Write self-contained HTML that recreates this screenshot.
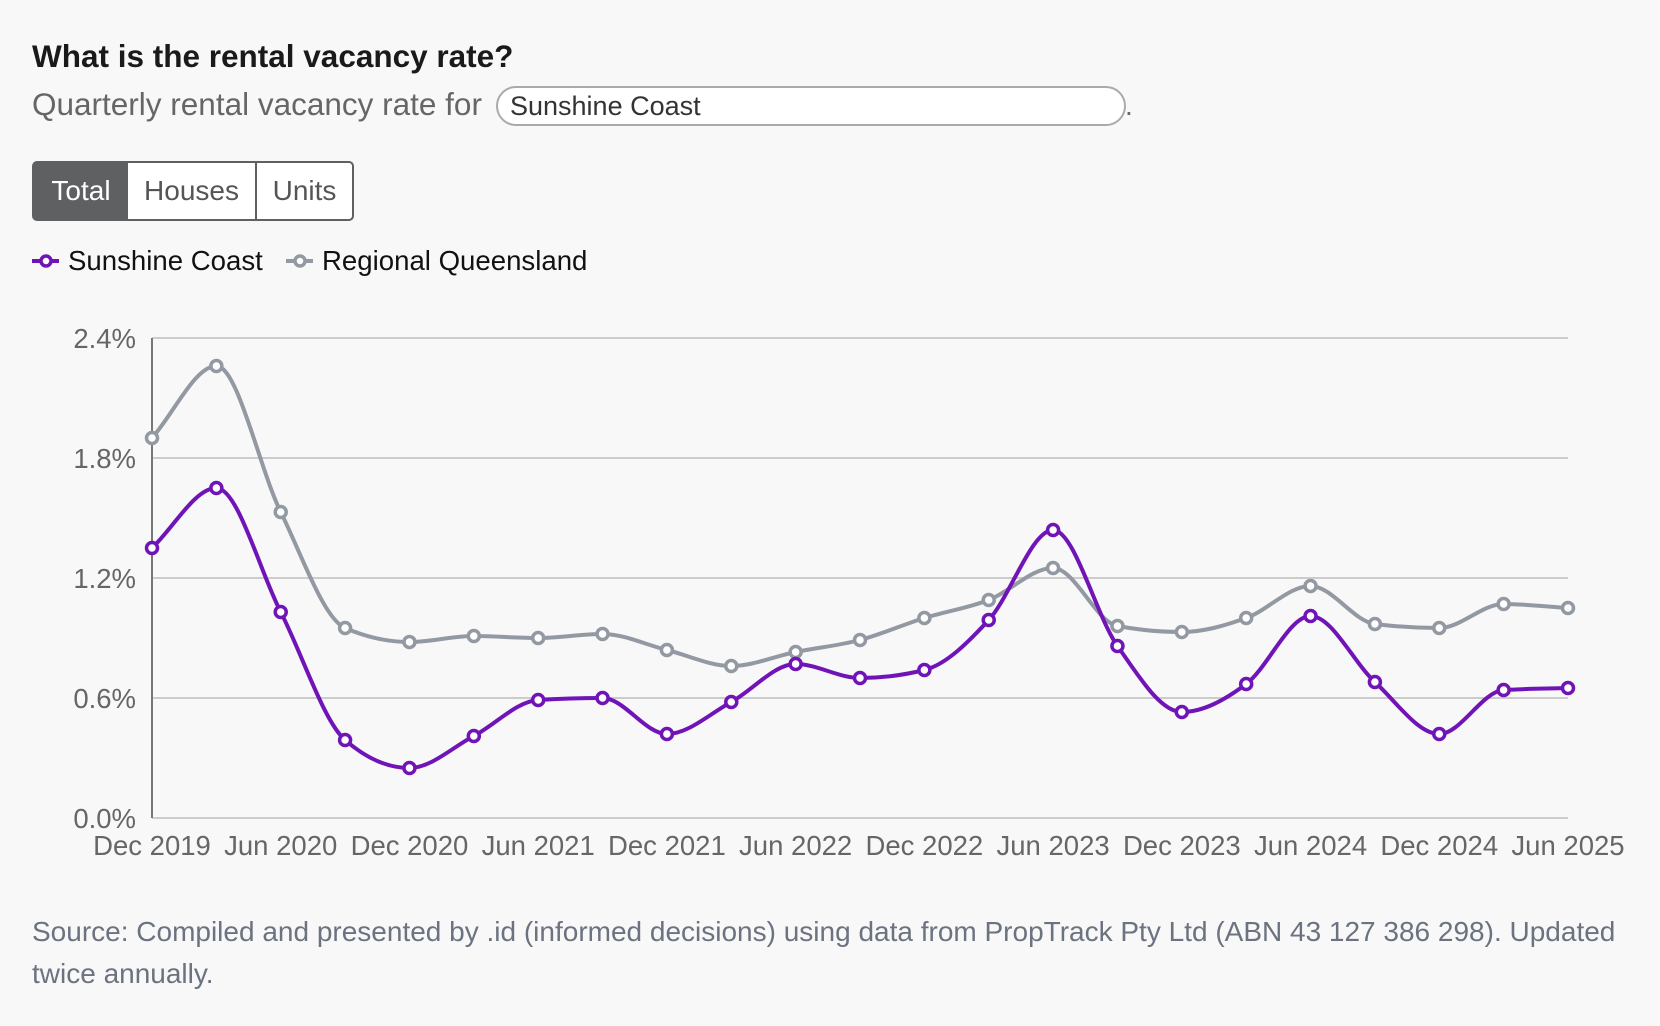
<!DOCTYPE html>
<html><head><meta charset="utf-8"><style>
body{margin:0;background:#f8f8f8;width:1660px;height:1026px;overflow:hidden;font-family:"Liberation Sans",sans-serif;position:relative}
.t{position:absolute;white-space:nowrap}
</style></head><body>
<div class="t" style="left:32px;top:38px;font-size:31.5px;font-weight:bold;color:#1a1a1a">What is the rental vacancy rate?</div>
<div class="t" style="left:32px;top:86px;font-size:31.5px;color:#666">Quarterly rental vacancy rate for</div>
<div class="t" style="left:496px;top:86px;height:36px;border:2px solid #aaa;border-radius:20px;background:#fff;font-size:27px;color:#333;line-height:36px;padding-left:12px;width:614px">Sunshine Coast</div>
<div class="t" style="left:1125px;top:90px;font-size:28px;color:#666">.</div>
<div class="t" style="left:32px;top:161px;width:322px;height:60px;border:2px solid #5f6062;border-radius:5px;background:#fff;box-sizing:border-box;font-size:28px;color:#555">
<div style="position:absolute;left:0;top:0;width:94px;height:56px;background:#5f6062;color:#fff;text-align:center;line-height:56px">Total</div>
<div style="position:absolute;left:94px;top:0;width:129px;height:56px;text-align:center;line-height:56px;border-right:2px solid #5f6062;box-sizing:border-box">Houses</div>
<div style="position:absolute;left:223px;top:0;width:95px;height:56px;text-align:center;line-height:56px">Units</div>
</div>
<svg class="t" style="left:0;top:0" width="1660" height="1026">
<g stroke-width="4" fill="#fff">
<line x1="32" y1="261" x2="59" y2="261" stroke="#7014b8"/><circle cx="46" cy="261" r="5" stroke="#7014b8" stroke-width="3.5"/>
<line x1="286" y1="261" x2="313" y2="261" stroke="#9399a2"/><circle cx="300" cy="261" r="5" stroke="#9399a2" stroke-width="3.5"/>
</g>
<text x="68" y="270" font-size="27.6" fill="#111">Sunshine Coast</text>
<text x="322" y="270" font-size="27.6" fill="#111">Regional Queensland</text>
<g stroke="#ccc" stroke-width="2">
<line x1="152" y1="338" x2="1568" y2="338"/><line x1="152" y1="458" x2="1568" y2="458"/><line x1="152" y1="578" x2="1568" y2="578"/><line x1="152" y1="698" x2="1568" y2="698"/><line x1="152" y1="818" x2="1568" y2="818"/>
</g>
<line x1="152" y1="338" x2="152" y2="818" stroke="#777" stroke-width="2"/>
<g font-size="27.5" fill="#666" text-anchor="end">
<text x="136" y="348">2.4%</text><text x="136" y="468">1.8%</text><text x="136" y="588">1.2%</text><text x="136" y="708">0.6%</text><text x="136" y="828">0.0%</text>
</g>
<g id="xl" font-size="27.5" fill="#666" text-anchor="middle"></g>
<g id="ser"></g>
</svg>
<div class="t" style="left:32px;top:911px;font-size:28px;color:#6b7280;line-height:42px;white-space:normal;width:1600px">Source: Compiled and presented by .id (informed decisions) using data from PropTrack Pty Ltd (ABN 43 127 386 298). Updated twice annually.</div>
<script>
var X0=152,DX=(1568-152)/22;
function Y(v){return 818-v*200;}
var sc=[1.35,1.65,1.03,0.39,0.25,0.41,0.59,0.60,0.42,0.58,0.77,0.70,0.74,0.99,1.44,0.86,0.53,0.67,1.01,0.68,0.42,0.64,0.65];
var rq=[1.90,2.26,1.53,0.95,0.88,0.91,0.90,0.92,0.84,0.76,0.83,0.89,1.00,1.09,1.25,0.96,0.93,1.00,1.16,0.97,0.95,1.07,1.05];
function mono(xs,ys){var n=xs.length,d=[],m=[];for(var i=0;i<n-1;i++)d.push((ys[i+1]-ys[i])/(xs[i+1]-xs[i]));
m[0]=d[0];m[n-1]=d[n-2];for(i=1;i<n-1;i++){if(d[i-1]*d[i]<=0)m[i]=0;else{var p=(d[i-1]+d[i])/2;m[i]=(Math.sign(d[i-1])+Math.sign(d[i]))*Math.min(Math.abs(d[i-1]),Math.abs(d[i]),0.5*Math.abs(p));}}
var s="M"+xs[0]+","+ys[0];for(i=0;i<n-1;i++){var h=(xs[i+1]-xs[i])/3;s+=" C"+(xs[i]+h)+","+(ys[i]+m[i]*h)+" "+(xs[i+1]-h)+","+(ys[i+1]-m[i+1]*h)+" "+xs[i+1]+","+ys[i+1];}return s;}
var NS="http://www.w3.org/2000/svg",g=document.getElementById("ser");
function draw(a,c){var xs=a.map(function(_,i){return X0+i*DX}),ys=a.map(Y);
var p=document.createElementNS(NS,"path");p.setAttribute("d",mono(xs,ys));p.setAttribute("fill","none");p.setAttribute("stroke",c);p.setAttribute("stroke-width","4");g.appendChild(p);
xs.forEach(function(x,i){var k=document.createElementNS(NS,"circle");k.setAttribute("cx",x);k.setAttribute("cy",ys[i]);k.setAttribute("r","5.5");k.setAttribute("fill","#fff");k.setAttribute("stroke",c);k.setAttribute("stroke-width","3.5");g.appendChild(k);});}
draw(rq,"#9399a2");draw(sc,"#7014b8");
var L=["Dec 2019","Jun 2020","Dec 2020","Jun 2021","Dec 2021","Jun 2022","Dec 2022","Jun 2023","Dec 2023","Jun 2024","Dec 2024","Jun 2025"],xl=document.getElementById("xl");
L.forEach(function(t,i){var e=document.createElementNS(NS,"text");e.setAttribute("x",X0+i*2*DX);e.setAttribute("y","855");e.textContent=t;xl.appendChild(e);});
</script>
</body></html>
